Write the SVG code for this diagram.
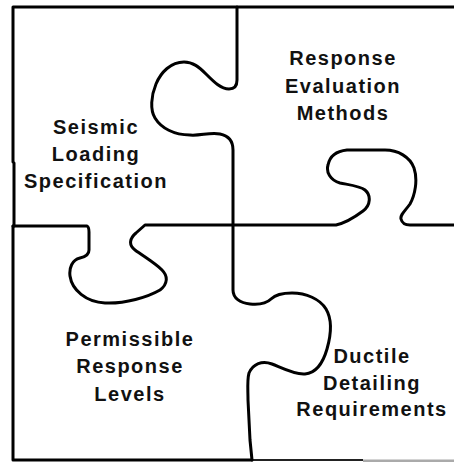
<svg xmlns="http://www.w3.org/2000/svg" width="454" height="462" viewBox="0 0 454 462">
<style>
.ln{fill:none;stroke:#000;stroke-width:3;stroke-linejoin:round;stroke-linecap:round}
.lb{font-family:"Liberation Sans",Arial,Helvetica,sans-serif;font-size:20px;font-weight:bold;letter-spacing:1.5px;text-anchor:middle;fill:#111}
</style>
<rect width="454" height="462" fill="#fff"/>
<g id="outlines">
<path class="ln" d="M454,7 H13 V162 L14,163 V226"/>
<path class="ln" d="M13,226 V460 H252"/>
<path d="M252,460 H363" fill="none" stroke="#222" stroke-width="2"/>
<path d="M363,461 H454" fill="none" stroke="#aaa" stroke-width="3"/>
<path class="ln" d="M237,7 V80 C237,87 233,89 229,89 C221,89 214,82 206,74 C199,67 193,62 184,62 C171,62 161,72 156,84 C151,96 150,110 155,118 C161,128 174,135 190,135 C200,136 210,132 220,134 C230,136 233,143 233,150 V290 C233,298 240,303 250,304 C260,305 266,304 271,299 C276,294 283,293 292,293 C306,293 320,299 326,309 C332,319 331,335 327,349 C323,363 316,373 305,374 C295,375 282,368 272,364 C262,360 253,364 249,373 C247,380 248,390 248,400 L250,440 L252,460"/>
<path class="ln" d="M13,226 H87 C89,227 89,229 89,232 V250 C89,255 85,257 80,258 C72,260 69,268 70,276 C72,290 86,302 105,303 C125,304 148,297 160,290 C168,284 168,276 162,270 C155,263 143,256 135,250 C128,245 130,238 136,233 L145,225 H336 C345,223 355,217 363,211 C371,205 371,195 365,190 C360,186 350,185 340,183 C330,180 326,172 328,165 C330,155 337,151 347,150 H385 C398,150 410,157 414,168 C418,180 415,195 410,204 C405,211 400,215 401,219 C402,223 405,225 410,225 H454"/>
</g>
<g id="seismic-loading">
<text class="lb" x="96" y="134">Seismic</text>
<text class="lb" x="96" y="161">Loading</text>
<text class="lb" x="96" y="188">Specification</text>
</g>
<g id="response-evaluation">
<text class="lb" x="343" y="65">Response</text>
<text class="lb" x="343" y="93">Evaluation</text>
<text class="lb" x="343" y="120">Methods</text>
</g>
<g id="permissible-response">
<text class="lb" x="130" y="346">Permissible</text>
<text class="lb" x="130" y="373">Response</text>
<text class="lb" x="130" y="401">Levels</text>
</g>
<g id="ductile-detailing">
<text class="lb" x="372" y="363">Ductile</text>
<text class="lb" x="372" y="390">Detailing</text>
<text class="lb" x="372" y="416">Requirements</text>
</g>
</svg>
